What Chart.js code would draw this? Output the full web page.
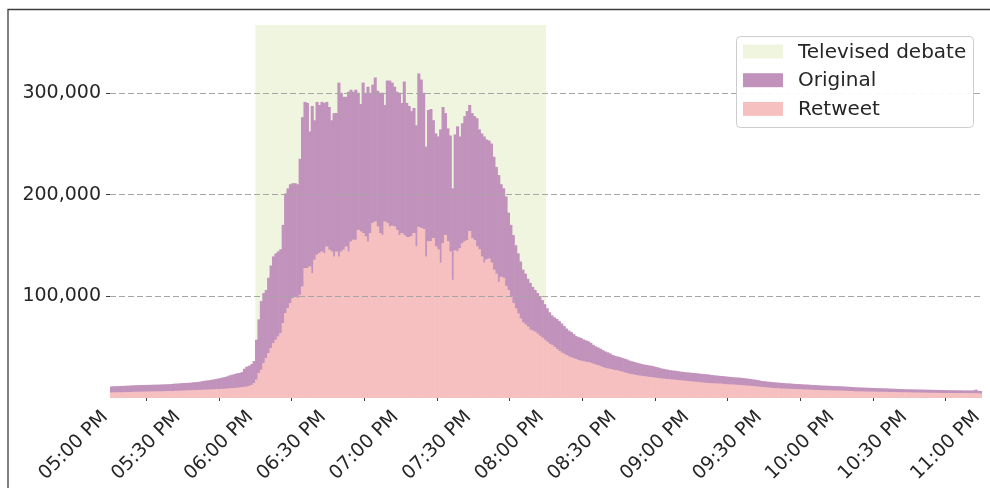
<!DOCTYPE html>
<html>
<head>
<meta charset="utf-8">
<script src="https://cdn.jsdelivr.net/npm/chart.js@4.4.0/dist/chart.umd.min.js"></script>
<style>
  html, body { margin: 0; padding: 0; background: #fff; }
  #wrap { width: 990px; height: 488px; }
</style>
</head>
<body>
<div id="wrap"><canvas id="chart" width="990" height="488"></canvas></div>
<script>
// tweets per minute in thousands, one value per minute from 5:00 PM to 10:59 PM
const retweet = [
  5.2, 5.2, 5.2, 5.3, 5.3, 5.3, 5.4, 5.5, 5.6, 5.7,
  5.8, 5.8, 5.9, 5.9, 6.0, 6.0, 6.1, 6.1, 6.2, 6.2,
  6.2, 6.3, 6.3, 6.4, 6.5, 6.5, 6.6, 6.7, 6.8, 6.9,
  7.0, 7.1, 7.2, 7.3, 7.4, 7.5, 7.6, 7.7, 7.8, 7.9,
  8.0, 8.1, 8.2, 8.3, 8.4, 8.5, 8.6, 8.8, 9.0, 9.2,
  9.4, 9.6, 9.8, 10.0, 10.3, 10.6, 11.0, 11.6, 12.5, 14.4,
  17.7, 24.3, 27.5, 34.1, 39.0, 43.9, 48.9, 53.8, 57.0, 60.3,
  63.6, 73.4, 83.3, 88.2, 93.1, 98.0, 99.0, 98.0, 101.3, 109.5,
  127.5, 127.5, 129.2, 122.6, 135.7, 140.7, 142.3, 143.9, 142.3, 148.8,
  145.6, 143.9, 139.0, 143.9, 139.0, 143.9, 145.6, 148.8, 143.9, 153.7,
  155.4, 155.4, 165.2, 163.6, 162.0, 158.7, 153.7, 162.0, 171.8, 173.4,
  168.5, 162.0, 160.3, 173.4, 171.8, 168.5, 169.2, 168.5, 165, 160,
  162, 160, 158, 158, 159, 162, 149, 168, 167, 166,
  139, 154, 154, 157, 149, 146, 133, 152, 160, 154,
  144, 116, 145, 144, 147, 152, 154, 155, 164, 157,
  155, 149, 146, 139, 133, 136, 137, 133, 126, 122,
  114, 119, 118, 110, 106, 100, 93, 88, 83, 78,
  74, 72, 70, 67, 66, 65, 63, 61, 59, 57,
  55, 53, 52, 50, 48.0, 46.0, 44.3, 43.2, 41.8, 40.6,
  39.6, 38.8, 37.8, 37.0, 36.4, 35.8, 35.3, 34.9, 34.4, 33.4,
  32.6, 32.0, 31.0, 30.0, 29.3, 28.8, 28.3, 27.7, 27.2, 26.9,
  26.2, 25.5, 24.9, 24.1, 23.5, 23.1, 22.6, 22.1, 21.8, 21.5,
  21.1, 20.8, 20.5, 20.3, 20.0, 19.6, 19.3, 19.0, 18.7, 18.5,
  18.3, 18.0, 17.8, 17.6, 17.4, 17.1, 16.9, 16.6, 16.4, 16.1,
  15.9, 15.7, 15.5, 15.2, 15.0, 14.7, 14.5, 14.3, 14.2, 14.1,
  14.0, 13.9, 13.8, 13.5, 13.2, 13.1, 13.0, 12.9, 12.7, 12.6,
  12.4, 12.2, 12.0, 11.8, 11.6, 11.4, 11.2, 11.0, 10.7, 10.5,
  10.3, 10.0, 9.8, 9.6, 9.4, 9.3, 9.2, 9.0, 8.9, 8.8,
  8.7, 8.6, 8.5, 8.4, 8.3, 8.2, 8.1, 8.0, 7.9, 7.8,
  7.7, 7.6, 7.5, 7.4, 7.3, 7.2, 7.2, 7.1, 7.1, 7.0,
  7.0, 6.9, 6.9, 6.8, 6.7, 6.6, 6.5, 6.3, 6.2, 6.2,
  6.1, 6.1, 6.0, 6.0, 5.9, 5.9, 5.8, 5.8, 5.8, 5.7,
  5.7, 5.6, 5.6, 5.5, 5.5, 5.4, 5.4, 5.3, 5.3, 5.2,
  5.2, 5.1, 5.1, 5.0, 5.0, 4.9, 4.9, 4.9, 4.8, 4.8,
  4.8, 4.7, 4.7, 4.6, 4.6, 4.6, 4.6, 4.6, 4.6, 4.6,
  4.6, 4.5, 4.5, 4.5, 4.4, 4.4, 4.4, 4.5, 4.3, 4.2
];
const original = [
  5.9, 6.0, 6.1, 6.1, 6.2, 6.3, 6.3, 6.3, 6.4, 6.4,
  6.4, 6.5, 6.5, 6.6, 6.5, 6.6, 6.5, 6.6, 6.6, 6.6,
  6.7, 6.7, 6.8, 6.8, 6.8, 7.0, 7.1, 7.2, 7.2, 7.3,
  7.4, 7.4, 7.4, 7.5, 7.7, 7.8, 7.9, 8.2, 8.6, 8.9,
  9.0, 9.3, 9.6, 10.0, 10.3, 10.7, 11.2, 11.5, 12.0, 12.8,
  13.2, 13.6, 14.2, 14.3, 14.9, 17.9, 19.5, 19.9, 20.5, 21.6,
  39.3, 52.7, 67.5, 68.9, 67.0, 74.1, 81.1, 85.2, 85.0, 83.7,
  82.4, 96.6, 117.7, 117.8, 116.9, 113.0, 112.0, 112.0, 133.7, 166.5,
  163.5, 162.5, 132.8, 164.4, 137.3, 150.3, 145.7, 147.1, 147.7, 142.2,
  140.4, 129.1, 141.0, 136.1, 171.0, 156.1, 150.4, 147.2, 157.1, 149.3,
  145.6, 147.6, 134.8, 125.4, 148.0, 141.3, 152.3, 138.0, 136.2, 141.6,
  133.5, 138.0, 139.7, 114.6, 140.2, 143.5, 140.8, 137.5, 136, 140,
  128, 151, 132, 129, 123, 123, 119, 151, 146, 134,
  108, 129, 130, 116, 111, 111, 131, 134, 120, 111,
  114, 90, 114, 123, 110, 118, 123, 127, 124, 123,
  122, 126, 118, 121, 124, 118, 116, 117, 111, 105,
  105, 91, 88, 88, 76, 70, 67, 62, 59, 56,
  52, 50, 47, 46, 43, 41, 40, 39, 37, 35,
  33, 31, 29, 29, 29.5, 29.5, 28.7, 27.3, 26.2, 25.4,
  24.9, 23.7, 22.7, 22.5, 22.3, 21.5, 21.1, 20.6, 19.6, 18.6,
  17.9, 17.4, 17.2, 16.8, 16.2, 15.8, 15.2, 14.3, 14.0, 13.7,
  13.8, 13.5, 13.5, 13.5, 13.0, 12.7, 12.5, 12.3, 12.0, 11.7,
  11.5, 11.4, 11.3, 11.1, 10.9, 10.6, 10.3, 9.9, 9.7, 9.4,
  9.1, 9.0, 8.9, 8.9, 8.7, 8.6, 8.5, 8.5, 8.5, 8.5,
  8.5, 8.5, 8.4, 8.5, 8.4, 8.5, 8.5, 8.4, 8.1, 7.9,
  7.8, 7.6, 7.5, 7.6, 7.6, 7.5, 7.3, 7.2, 7.2, 7.2,
  7.2, 7.1, 7.0, 6.9, 6.8, 6.6, 6.5, 6.3, 6.0, 5.8,
  5.9, 5.8, 5.8, 5.7, 5.7, 5.6, 5.5, 5.5, 5.4, 5.3,
  5.3, 5.2, 5.1, 5.1, 5.1, 5.0, 4.9, 4.9, 4.9, 4.8,
  4.8, 4.7, 4.7, 4.6, 4.6, 4.6, 4.5, 4.5, 4.4, 4.4,
  4.3, 4.3, 4.2, 4.1, 4.1, 4.0, 4.0, 4.0, 4.0, 3.9,
  3.9, 3.8, 3.8, 3.7, 3.7, 3.6, 3.6, 3.5, 3.5, 3.5,
  3.4, 3.4, 3.3, 3.3, 3.2, 3.2, 3.1, 3.1, 3.0, 3.0,
  3.0, 3.0, 3.0, 3.0, 3.0, 3.0, 3.0, 2.9, 3.0, 2.9,
  2.9, 2.9, 2.9, 2.9, 2.9, 2.8, 2.8, 2.7, 2.7, 2.6,
  2.6, 2.7, 2.6, 2.6, 2.7, 2.6, 2.8, 3.4, 2.5, 2.4
];
const tickLabels = ['05:00 PM', '05:30 PM', '06:00 PM', '06:30 PM', '07:00 PM', '07:30 PM', '08:00 PM',
  '08:30 PM', '09:00 PM', '09:30 PM', '10:00 PM', '10:30 PM', '11:00 PM'];
const yTicks = [100000, 200000, 300000];
const debate = [60, 180]; // minutes after 5 PM
const legendNames = ['Televised debate', 'Original', 'Retweet'];

const GREEN = '#eff5df';
const PURPLE = '#c193bc';
const PINK = '#f7c0c0';
const TEXT = '#262626';
const FONT = 'DejaVu Sans';

// minute i is drawn as a bar from i to i+1
const toPoints = arr => arr.map((v, i) => ({ x: i + 0.5, y: v * 1000 }));

const debateShade = {
  id: 'debateShade',
  beforeDatasetsDraw(chart) {
    const { ctx, chartArea, scales } = chart;
    const x1 = scales.x.getPixelForValue(debate[0]);
    const x2 = scales.x.getPixelForValue(debate[1]);
    ctx.save();
    ctx.fillStyle = GREEN;
    ctx.fillRect(x1, chartArea.top, x2 - x1, chartArea.bottom - chartArea.top);
    ctx.restore();
  }
};

const boxLegend = {
  id: 'boxLegend',
  afterDraw(chart) {
    const { ctx, chartArea } = chart;
    const left = chartArea.right - 246, top = chartArea.top + 11;
    ctx.save();
    ctx.fillStyle = 'rgba(255,255,255,0.92)';
    ctx.strokeStyle = '#cccccc';
    ctx.lineWidth = 1;
    ctx.beginPath();
    ctx.roundRect(left + 0.5, top + 0.5, 237, 91, 4);
    ctx.fill();
    ctx.stroke();
    const colors = [GREEN, PURPLE, PINK];
    ctx.font = '20px "' + FONT + '"';
    ctx.textBaseline = 'middle';
    legendNames.forEach((name, k) => {
      const cy = top + 15.5 + k * 28.7;
      ctx.fillStyle = colors[k];
      ctx.fillRect(left + 7, cy - 7, 40, 14);
      ctx.fillStyle = TEXT;
      ctx.fillText(name, left + 62, cy + 1);
    });

    // outer frame of the figure
    ctx.strokeStyle = '#3d3d3d';
    ctx.lineWidth = 1.3;
    ctx.beginPath();
    ctx.moveTo(8, 488);
    ctx.lineTo(8, 9.5);
    ctx.lineTo(990, 9.5);
    ctx.stroke();
    ctx.restore();
  }
};

new Chart(document.getElementById('chart'), {
  type: 'bar',
  data: {
    datasets: [
      { label: 'Retweet', data: toPoints(retweet), backgroundColor: PINK },
      { label: 'Original', data: toPoints(original), backgroundColor: PURPLE }
    ]
  },
  options: {
    responsive: false,
    animation: false,
    layout: { padding: { top: 25, right: 8, left: 0, bottom: 0 } },
    datasets: { bar: { barPercentage: 1, categoryPercentage: 1, borderWidth: 0 } },
    plugins: { legend: { display: false }, tooltip: { enabled: false } },
    scales: {
      x: {
        type: 'linear',
        stacked: true,
        min: 0,
        max: 360,
        offset: false,
        afterBuildTicks: s => { s.ticks = tickLabels.map((_, k) => ({ value: k * 30 })); },
        afterFit: s => { s.height = 90; s.paddingLeft = 0; s.paddingRight = 0; },
        grid: { drawOnChartArea: false, drawTicks: true, tickLength: 3, tickColor: '#3c3c3c', lineWidth: 1 },
        border: { display: false },
        ticks: {
          autoSkip: false, maxRotation: 45, minRotation: 45, padding: 5, labelOffset: -5,
          color: TEXT, font: { family: FONT, size: 19 },
          callback: (v, k) => tickLabels[k]
        }
      },
      y: {
        stacked: true,
        min: 0,
        max: 367000,
        afterBuildTicks: s => { s.ticks = yTicks.map(v => ({ value: v })); },
        afterFit: s => { s.width = 110; s.paddingTop = 0; s.paddingBottom = 0; },
        grid: { z: 1, color: '#a6a6a6', lineWidth: 1, drawTicks: true, tickLength: 4, tickColor: '#3c3c3c' },
        border: { display: false, dash: [6, 3] },
        ticks: {
          padding: 5, color: TEXT, font: { family: FONT, size: 19 },
          callback: v => v.toLocaleString('en-US')
        }
      }
    }
  },
  plugins: [debateShade, boxLegend]
});
</script>
</body>
</html>
